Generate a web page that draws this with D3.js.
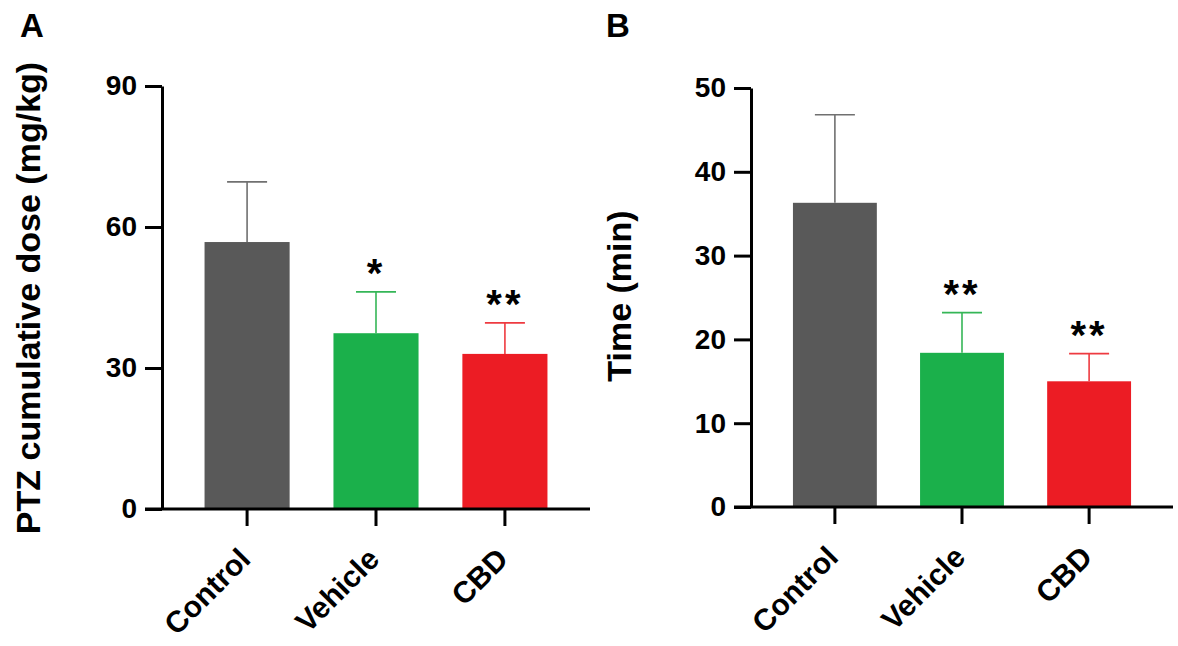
<!DOCTYPE html>
<html>
<head>
<meta charset="utf-8">
<script src="https://cdn.jsdelivr.net/npm/d3@7"></script>
<style>
  body { margin: 0; background: #fff; }
  svg text { font-family: "Liberation Sans", Arial, sans-serif; font-weight: bold; }
</style>
</head>
<body>
<script>
const groups = ["Control", "Vehicle", "CBD"];
const barColors = ["#595959", "#1bb04b", "#ec1c24"];
const errColors = ["#707070", "#35b657", "#ee3a40"];

// panel A: PTZ cumulative dose (mg/kg)
const doseMean = [56.8, 37.4, 33.0];
const doseSem = [12.8, 8.8, 6.6];
const doseStars = ["", "*", "**"];
const doseTicks = [0, 30, 60, 90];

// panel B: time (min)
const timeMean = [36.3, 18.4, 15.0];
const timeSem = [10.5, 4.8, 3.3];
const timeStars = ["", "**", "**"];
const timeTicks = [0, 10, 20, 30, 40, 50];

const svg = d3.select("body").append("svg")
  .attr("width", 1178)
  .attr("height", 646);

function panel(opts) {
  const g = svg.append("g");
  const y = d3.scaleLinear().domain(opts.domain).range([opts.bottom, opts.top]);
  const x = d3.scaleBand().domain(groups)
    .range([opts.left, opts.right])
    .paddingInner(0.34)
    .paddingOuter(0.33);

  // bars
  g.selectAll("rect.bar")
    .data(groups)
    .join("rect")
    .attr("class", "bar")
    .attr("x", d => x(d))
    .attr("width", x.bandwidth())
    .attr("y", (d, i) => y(opts.mean[i]))
    .attr("height", (d, i) => y(0) - y(opts.mean[i]))
    .attr("fill", (d, i) => barColors[i]);

  // error bars, upper only
  const cx = d => x(d) + x.bandwidth() / 2;
  g.selectAll("line.err")
    .data(groups)
    .join("line")
    .attr("class", "err")
    .attr("x1", cx).attr("x2", cx)
    .attr("y1", (d, i) => y(opts.mean[i]))
    .attr("y2", (d, i) => y(opts.mean[i] + opts.sem[i]))
    .attr("stroke", (d, i) => errColors[i])
    .attr("stroke-width", 1.6);
  g.selectAll("line.cap")
    .data(groups)
    .join("line")
    .attr("class", "cap")
    .attr("x1", d => cx(d) - 20).attr("x2", d => cx(d) + 20)
    .attr("y1", (d, i) => y(opts.mean[i] + opts.sem[i]))
    .attr("y2", (d, i) => y(opts.mean[i] + opts.sem[i]))
    .attr("stroke", (d, i) => errColors[i])
    .attr("stroke-width", 1.6);

  // significance stars
  g.selectAll("text.star")
    .data(groups)
    .join("text")
    .attr("class", "star")
    .attr("x", cx)
    .attr("y", (d, i) => y(opts.mean[i] + opts.sem[i]) - 5)
    .attr("text-anchor", "middle")
    .attr("font-size", 40)
    .attr("letter-spacing", 3)
    .text((d, i) => opts.stars[i]);

  // y axis
  const yAxis = g.append("g")
    .attr("transform", `translate(${opts.left},0)`)
    .call(d3.axisLeft(y).tickValues(opts.ticks).tickSize(17).tickSizeOuter(0).tickPadding(8));
  yAxis.select(".domain").attr("stroke-width", 3);
  yAxis.selectAll(".tick line").attr("stroke-width", 3);
  yAxis.selectAll(".tick text").attr("font-size", 28).attr("fill", "#000")
    .attr("font-family", "'Liberation Sans', Arial, sans-serif");

  // x axis line (extends left past the y axis)
  g.append("line")
    .attr("x1", opts.left - 17).attr("x2", opts.right)
    .attr("y1", y(0)).attr("y2", y(0))
    .attr("stroke", "#000").attr("stroke-width", 3);

  const xAxis = g.append("g")
    .attr("transform", `translate(0,${y(0)})`)
    .call(d3.axisBottom(x).tickSize(17).tickSizeOuter(0));
  xAxis.select(".domain").remove();
  xAxis.selectAll(".tick line").attr("stroke-width", 3);
  xAxis.selectAll(".tick text")
    .attr("font-size", 30).attr("fill", "#000")
    .attr("font-family", "'Liberation Sans', Arial, sans-serif")
    .attr("text-anchor", "end")
    .attr("x", 0).attr("y", 0).attr("dy", 0)
    .attr("transform", "translate(5,52) rotate(-45)");

  // y label
  g.append("text")
    .attr("transform", `translate(${opts.labelX},${opts.labelY}) rotate(-90)`)
    .attr("text-anchor", "middle")
    .attr("font-size", 34)
    .text(opts.ylabel);

  // panel letter
  g.append("text")
    .attr("x", opts.letterX).attr("y", 37)
    .attr("font-size", 33)
    .text(opts.letter);
}

panel({
  left: 162, right: 590, top: 86, bottom: 509,
  domain: [0, 90], ticks: doseTicks,
  mean: doseMean, sem: doseSem, stars: doseStars,
  ylabel: "PTZ cumulative dose (mg/kg)", labelX: 40, labelY: 298,
  letter: "A", letterX: 20
});

panel({
  left: 751, right: 1173, top: 88, bottom: 507,
  domain: [0, 50], ticks: timeTicks,
  mean: timeMean, sem: timeSem, stars: timeStars,
  ylabel: "Time (min)", labelX: 631, labelY: 296,
  letter: "B", letterX: 606
});
</script>
</body>
</html>
